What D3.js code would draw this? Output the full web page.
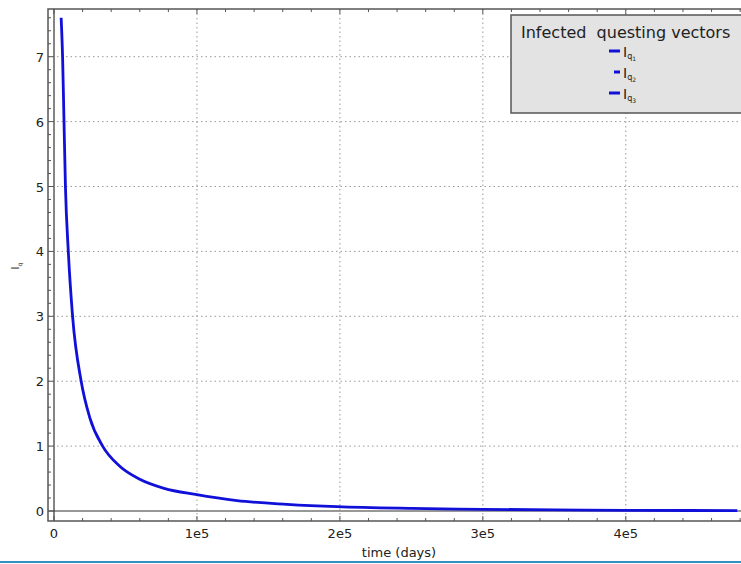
<!DOCTYPE html>
<html>
<head>
<meta charset="utf-8">
<script src="https://cdn.jsdelivr.net/npm/d3@7"></script>
<style>
  body { margin: 0; background: #fff; }
  text { font-family: "DejaVu Sans", sans-serif; fill: #222; }
</style>
</head>
<body>
<div id="chart"></div>
<script>
const svgWidth = 741;
const svgHeight = 564;

// curve: time (days) and infected questing vectors
const times = [5000, 6000, 7000, 8000, 10000, 13000, 19000, 25000, 34000, 46000,
  60000, 77000, 99000, 128000, 163000, 198000, 250000, 300000, 350000, 400000, 478000];
const infected = [7.6, 7.0, 6.0, 5.0, 4.0, 3.0, 2.0, 1.44, 1.0, 0.69,
  0.49, 0.35, 0.255, 0.16, 0.103, 0.066, 0.04, 0.026, 0.017, 0.011, 0.006];

const xTicks = [0, 100000, 200000, 300000, 400000];
const xTickLabels = ["0", "1e5", "2e5", "3e5", "4e5"];
const yTicks = [0, 1, 2, 3, 4, 5, 6, 7];
const legendNames = ["1", "2", "3"];
const legendStart = [609, 614, 609];

const frame = { left: 48, top: 9, right: 743, bottom: 521 };

const svg = d3.select("#chart")
  .append("svg")
  .attr("width", svgWidth)
  .attr("height", svgHeight);

const x = d3.scaleLinear()
  .domain([-4200, 482000])
  .range([frame.left, frame.right]);

const y = d3.scaleLinear()
  .domain([-0.154, 7.735])
  .range([frame.bottom, frame.top]);

// grid lines (dotted)
const grid = svg.append("g");
grid.selectAll(".gx")
  .data(xTicks.filter(d => d !== 0))
  .enter().append("line")
  .attr("x1", d => x(d)).attr("x2", d => x(d))
  .attr("y1", frame.top).attr("y2", frame.bottom)
  .attr("stroke", "#999").attr("stroke-dasharray", "1.5,3");
grid.selectAll(".gy")
  .data(yTicks.filter(d => d !== 0))
  .enter().append("line")
  .attr("y1", d => y(d)).attr("y2", d => y(d))
  .attr("x1", frame.left).attr("x2", frame.right)
  .attr("stroke", "#999").attr("stroke-dasharray", "1.5,3");

// axes through zero
svg.append("line")
  .attr("x1", x(0)).attr("x2", x(0))
  .attr("y1", frame.top).attr("y2", frame.bottom)
  .attr("stroke", "#333").attr("stroke-width", 1.2);
svg.append("line")
  .attr("x1", frame.left).attr("x2", frame.right)
  .attr("y1", y(0)).attr("y2", y(0))
  .attr("stroke", "#333").attr("stroke-width", 1.2);

// the curve
const line = d3.line()
  .x((d, i) => x(times[i]))
  .y(d => y(d))
  .curve(d3.curveMonotoneX);

svg.append("path")
  .datum(infected)
  .attr("d", line)
  .attr("fill", "none")
  .attr("stroke", "#1010d8")
  .attr("stroke-width", 2.8);

// frame
svg.append("rect")
  .attr("x", frame.left).attr("y", frame.top)
  .attr("width", frame.right - frame.left)
  .attr("height", frame.bottom - frame.top)
  .attr("fill", "none")
  .attr("stroke", "#555").attr("stroke-width", 1.5);

// ticks on the frame, pointing in
const xMinor = d3.range(0, 482000, 20000).filter(d => d % 100000 !== 0);
const yMinor = d3.range(0, 7.7, 0.2).filter(d => Math.abs(d - Math.round(d)) > 0.01);
const ticks = svg.append("g").attr("stroke", "#555");
[[xTicks, 5], [xMinor, 3]].forEach(([vals, len]) => {
  ticks.selectAll(null).data(vals).enter().append("line")
    .attr("x1", d => x(d)).attr("x2", d => x(d))
    .attr("y1", frame.bottom).attr("y2", frame.bottom - len);
  ticks.selectAll(null).data(vals).enter().append("line")
    .attr("x1", d => x(d)).attr("x2", d => x(d))
    .attr("y1", frame.top).attr("y2", frame.top + len);
});
[[yTicks, 5], [yMinor, 3]].forEach(([vals, len]) => {
  ticks.selectAll(null).data(vals).enter().append("line")
    .attr("y1", d => y(d)).attr("y2", d => y(d))
    .attr("x1", frame.left).attr("x2", frame.left + len);
});

// tick labels
svg.append("g").selectAll("text")
  .data(xTicks)
  .enter().append("text")
  .attr("x", d => x(d))
  .attr("y", 538)
  .attr("text-anchor", "middle")
  .attr("font-size", 13)
  .text((d, i) => xTickLabels[i]);

svg.append("g").selectAll("text")
  .data(yTicks)
  .enter().append("text")
  .attr("x", 44)
  .attr("y", d => y(d) + 5)
  .attr("text-anchor", "end")
  .attr("font-size", 13)
  .text(d => d);

// axis labels
svg.append("text")
  .attr("x", 399)
  .attr("y", 557)
  .attr("text-anchor", "middle")
  .attr("font-size", 13)
  .text("time (days)");

const yLabel = svg.append("text")
  .attr("transform", "translate(19, 266) rotate(-90)")
  .attr("text-anchor", "middle")
  .attr("font-size", 10);
yLabel.append("tspan").text("I");
yLabel.append("tspan").attr("font-size", 6).attr("dy", 3).text("q");

// legend
const legend = svg.append("g");
legend.append("rect")
  .attr("x", 511).attr("y", 15)
  .attr("width", 240).attr("height", 98)
  .attr("fill", "#e3e3e3")
  .attr("stroke", "#555").attr("stroke-width", 1.5);
legend.append("text")
  .attr("x", 521).attr("y", 38)
  .attr("font-size", 16)
  .attr("xml:space", "preserve")
  .text("Infected  questing vectors");

legendNames.forEach((name, i) => {
  const ly = 51 + i * 21;
  legend.append("line")
    .attr("x1", legendStart[i]).attr("x2", 620)
    .attr("y1", ly).attr("y2", ly)
    .attr("stroke", "#1010d8").attr("stroke-width", 3);
  const t = legend.append("text")
    .attr("x", 623).attr("y", ly + 6)
    .attr("font-size", 14);
  t.append("tspan").text("I");
  t.append("tspan").attr("font-size", 8).attr("dy", 2).text("q");
  t.append("tspan").attr("font-size", 6).attr("dy", 2).text(name);
});

// blue strip at the bottom edge
svg.append("rect")
  .attr("x", 0).attr("y", 561)
  .attr("width", svgWidth).attr("height", 2)
  .attr("fill", "#3590c4");
</script>
</body>
</html>
